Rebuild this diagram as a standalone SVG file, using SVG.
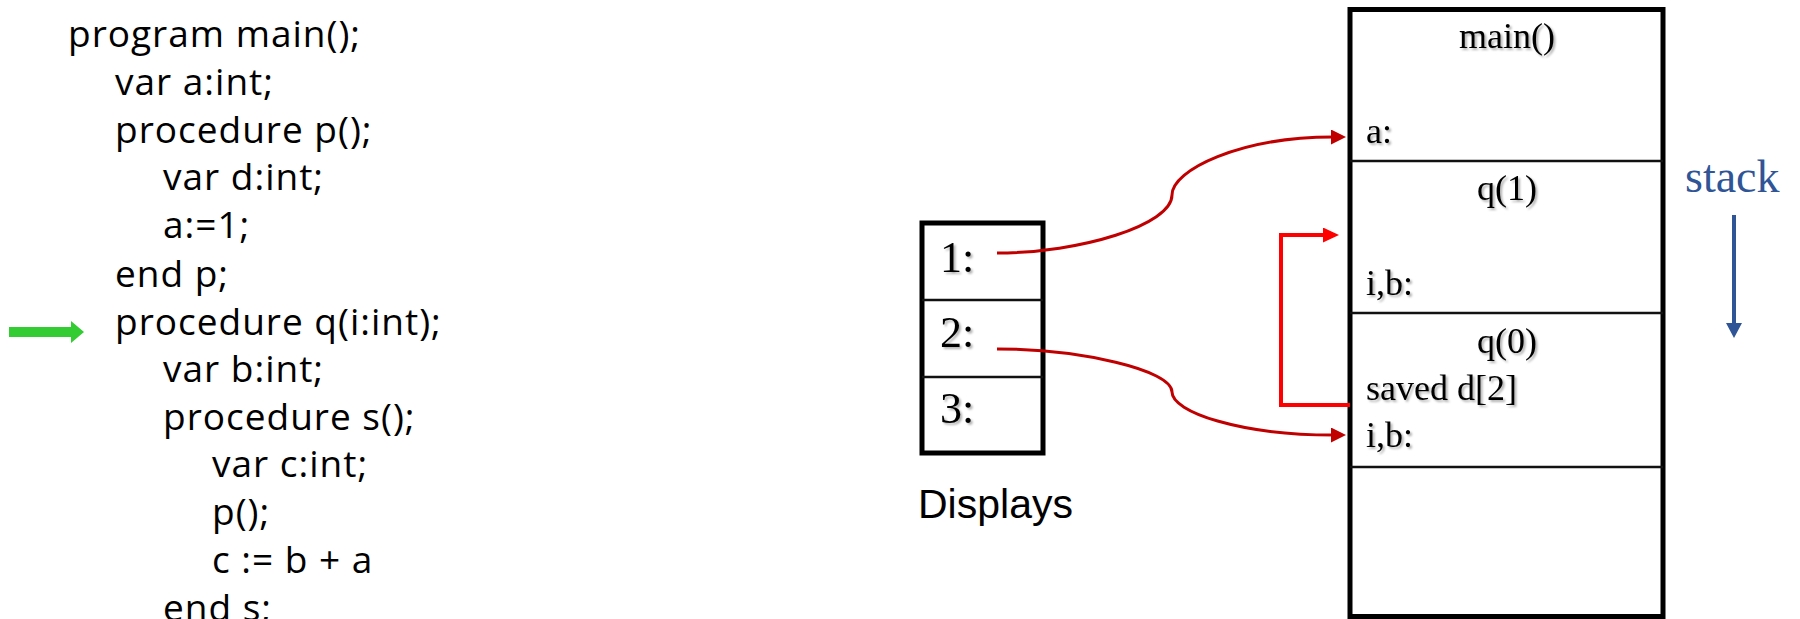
<svg xmlns="http://www.w3.org/2000/svg" width="1800" height="619" viewBox="0 0 1800 619">
<defs>
<style>
.code{font-family:"Open Sans","DejaVu Sans",sans-serif;font-size:37px;letter-spacing:1px;fill:#000}
.serif{font-family:"Liberation Serif","Times New Roman",serif;fill:#000}
.st{font-size:36px}
.dl{font-size:44px}
.box{fill:#fff;stroke:#000;stroke-width:5}
.div{stroke:#111;stroke-width:2.5}
.dred{fill:none;stroke:#C00000;stroke-width:3}
.bred{fill:none;stroke:#FF0000;stroke-width:4}
</style>
<filter id="sh" x="-10%" y="-10%" width="130%" height="140%">
<feDropShadow dx="2" dy="2" stdDeviation="1.2" flood-color="#000" flood-opacity="0.3"/>
</filter>
<marker id="ahd" viewBox="0 0 15 15" refX="2" refY="7.5" markerWidth="15" markerHeight="15" markerUnits="userSpaceOnUse" orient="auto">
<path d="M0,0 L15,7.5 L0,15 z" fill="#C00000"/>
</marker>
<marker id="ahb" viewBox="0 0 16 15" refX="2" refY="7.5" markerWidth="16" markerHeight="15" markerUnits="userSpaceOnUse" orient="auto">
<path d="M0,0 L16,7.5 L0,15 z" fill="#FF0000"/>
</marker>
</defs>
<rect width="1800" height="619" fill="#fff"/>

<g id="code">
<text class="code" x="68" y="47">program main();</text>
<text class="code" x="115" y="95">var a:int;</text>
<text class="code" x="115" y="143">procedure p();</text>
<text class="code" x="163" y="190">var d:int;</text>
<text class="code" x="163" y="238">a:=1;</text>
<text class="code" x="115" y="287">end p;</text>
<text class="code" x="115" y="335">procedure q(i:int);</text>
<text class="code" x="163" y="382">var b:int;</text>
<text class="code" x="163" y="430">procedure s();</text>
<text class="code" x="212" y="477">var c:int;</text>
<text class="code" x="212" y="525">p();</text>
<text class="code" x="212" y="573">c := b + a</text>
<text class="code" x="163" y="621">end s;</text>
</g>

<g id="current-arrow">
<polygon points="9,327 71,327 71,321 84,332 71,343 71,337 9,337" fill="#33CC33"/>
</g>

<g id="displays">
<rect class="box" x="922" y="223" width="121" height="230"/>
<line class="div" x1="922" y1="300" x2="1043" y2="300"/>
<line class="div" x1="922" y1="377" x2="1043" y2="377"/>
<g class="serif dl" filter="url(#sh)">
<text x="940" y="272">1:</text>
<text x="940" y="347">2:</text>
<text x="940" y="423">3:</text>
</g>
<text x="918" y="518" font-family="Liberation Sans, Arial, sans-serif" font-size="41" fill="#000">Displays</text>
</g>

<g id="stack">
<rect class="box" x="1350" y="9.5" width="313" height="607"/>
<line class="div" x1="1350" y1="161" x2="1663" y2="161"/>
<line class="div" x1="1350" y1="313" x2="1663" y2="313"/>
<line class="div" x1="1350" y1="467" x2="1663" y2="467"/>
<g class="serif st" filter="url(#sh)">
<text x="1507" y="48" text-anchor="middle">main()</text>
<text x="1366" y="143">a:</text>
<text x="1507" y="200" text-anchor="middle">q(1)</text>
<text x="1366" y="295">i,b:</text>
<text x="1507" y="353" text-anchor="middle">q(0)</text>
<text x="1366" y="400">saved d[2]</text>
<text x="1366" y="447">i,b:</text>
</g>
</g>

<g id="stack-direction">
<text x="1685" y="192" font-family="Liberation Serif, Times New Roman, serif" font-size="46" fill="#2F5597">stack</text>
<line x1="1734" y1="215" x2="1734" y2="325" stroke="#2F5597" stroke-width="4"/>
<polygon points="1726,323 1742,323 1734,338" fill="#2F5597"/>
</g>

<g id="connectors">
<path class="dred" d="M997,253 C1080,253 1172,225 1172,195 C1172,170 1240,137 1333,137" marker-end="url(#ahd)"/>
<path class="dred" d="M997,349 C1080,349 1172,370 1172,392 C1172,412 1240,435 1333,435" marker-end="url(#ahd)"/>
<polyline class="bred" points="1350,405 1281,405 1281,235 1325,235" marker-end="url(#ahb)"/>
</g>
</svg>
